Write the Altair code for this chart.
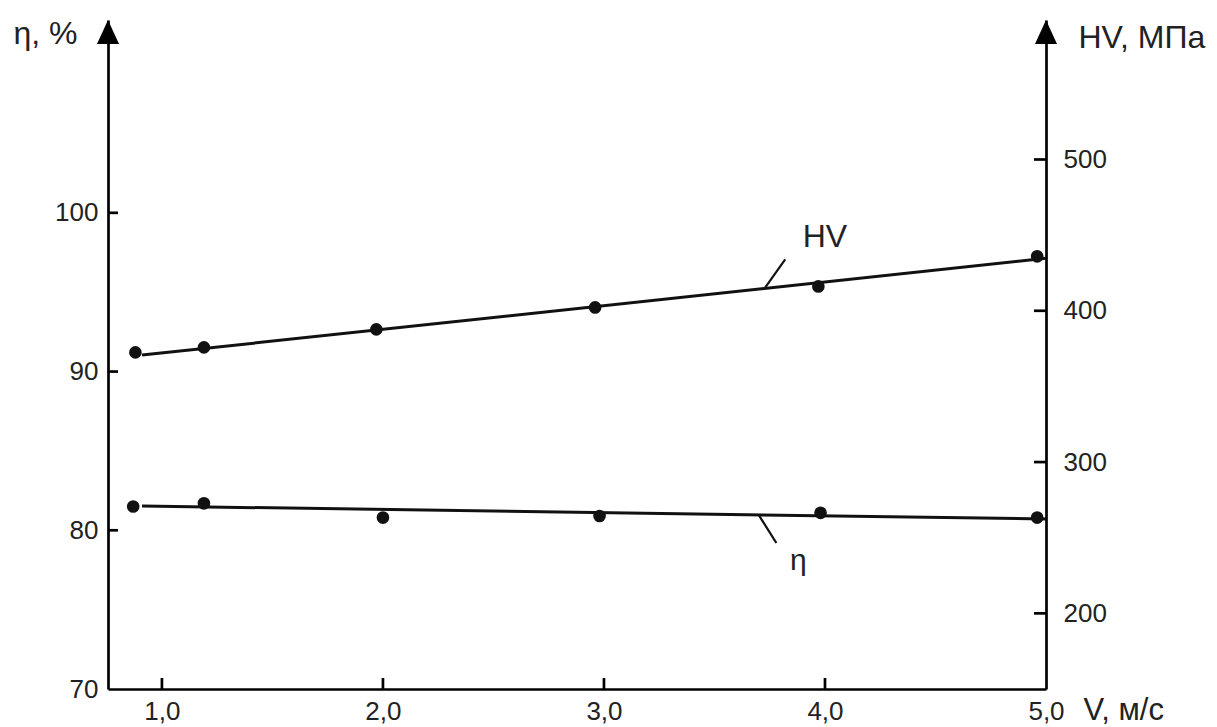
import altair as alt
import pandas as pd

# ---- data ----
hv_v = [0.88, 1.19, 1.97, 2.96, 3.97, 4.96]
hv_vals = [372.5, 375.8, 387.7, 402.2, 416.1, 436.0]
eta_v = [0.87, 1.19, 2.00, 2.98, 3.98, 4.96]
eta_vals = [81.5, 81.7, 80.8, 80.9, 81.1, 80.8]

hv_fit_v = [0.91, 5.0]
hv_fit = [370.7, 434.7]
eta_fit_v = [0.91, 5.0]
eta_fit = [81.53, 80.71]

x_tick_vals = [1.0, 2.0, 3.0, 4.0, 5.0]
x_tick_marks = [1.0, 2.0, 3.0, 4.0]
eta_tick_vals = [70, 80, 90, 100]
eta_tick_marks = [80, 90, 100]
hv_tick_vals = [200, 300, 400, 500]

X_DOM = [0.756, 5.0]
ETA_DOM = [70, 112.15]
HV_DOM = [150, 592.2]

# annotation leaders / labels (data coords)
hv_leader = {"v": [3.82], "y": [434.0], "v2": [3.73], "y2": [415.5]}
eta_leader = {"v": [3.70], "y": [80.97], "v2": [3.78], "y2": [79.2]}
hv_label = {"v": [4.0], "y": [441.9], "t": ["HV"]}
eta_label = {"v": [3.88], "y": [77.5], "t": ["η"]}

W, H = 938, 669
FONT = "Liberation Sans"
INK = "#111111"
TXT = "#222222"
ARROW = "M0,0L-0.44,0.96L0.44,0.96Z"

xscale = alt.Scale(domain=X_DOM, nice=False, zero=False)
escale = alt.Scale(domain=ETA_DOM, nice=False, zero=False)
hscale = alt.Scale(domain=HV_DOM, nice=False, zero=False)

x_axis = alt.Axis(
    values=x_tick_vals,
    labelExpr="replace(format(datum.value, '.1f'), '.', ',')",
    ticks=False, grid=False,
    domainColor="black", domainWidth=2.7,
    labelFontSize=26, labelFont=FONT, labelColor=TXT, labelPadding=9,
    labelOverlap=False, labelBound=False, labelFlush=False,
    title="V, м/с", titleFont=FONT, titleFontSize=31, titleFontWeight="normal",
    titleColor=TXT, titleX=975, titleY=30, titleAlign="left",
    titleBaseline="alphabetic", titleAngle=0,
)
eta_axis = alt.Axis(
    orient="left", values=eta_tick_vals, ticks=False, grid=False,
    domainColor="black", domainWidth=2.7,
    labelFontSize=26, labelFont=FONT, labelColor=TXT, labelPadding=10,
    title="η, %", titleFont=FONT, titleFontSize=32, titleFontWeight="normal",
    titleColor=TXT, titleX=-95, titleY=23, titleAlign="left",
    titleBaseline="alphabetic", titleAngle=0,
)
hv_axis = alt.Axis(
    orient="right", values=hv_tick_vals, ticks=False, grid=False,
    domainColor="black", domainWidth=2.7,
    labelFontSize=26, labelFont=FONT, labelColor=TXT, labelPadding=17,
    title="HV, МПа", titleFont=FONT, titleFontSize=32, titleFontWeight="normal",
    titleColor=TXT, titleX=32, titleY=27, titleAlign="left",
    titleBaseline="alphabetic", titleAngle=0,
)


def X(field="v:Q"):
    return alt.X(field, scale=xscale, axis=x_axis)


def YE(field="y:Q"):
    return alt.Y(field, scale=escale, axis=eta_axis)


def YH(field="y:Q"):
    return alt.Y(field, scale=hscale, axis=hv_axis)


# ---- η group (left axis) ----
eta_fit_df = pd.DataFrame({"v": eta_fit_v, "y": eta_fit})
eta_pts_df = pd.DataFrame({"v": eta_v, "y": eta_vals})

eta_line = alt.Chart(eta_fit_df).mark_line(color=INK, strokeWidth=3).encode(x=X(), y=YE())
eta_points = alt.Chart(eta_pts_df).mark_circle(size=160, color=INK, opacity=1).encode(x=X(), y=YE())
eta_lead = alt.Chart(pd.DataFrame(eta_leader)).mark_rule(color=INK, strokeWidth=2.2).encode(
    x=X(), x2="v2:Q", y=YE(), y2="y2:Q"
)
eta_text = alt.Chart(pd.DataFrame(eta_label)).mark_text(
    font=FONT, fontSize=30, color=TXT, align="center", baseline="alphabetic"
).encode(x=X(), y=YE(), text="t:N")
eta_ticks = alt.Chart(pd.DataFrame({"y": eta_tick_marks})).mark_rule(color="black", strokeWidth=2.7).encode(
    y=YE(), x=alt.value(0), x2=alt.value(10)
)
x_ticks = alt.Chart(pd.DataFrame({"v": x_tick_marks})).mark_rule(color="black", strokeWidth=2.7).encode(
    x=X(), y=alt.value(H), y2=alt.value(H - 11)
)
eta_arrow = alt.Chart(pd.DataFrame({"v": [X_DOM[0]], "y": [ETA_DOM[1]]})).mark_point(
    shape=ARROW, size=2500, filled=True, color="black", opacity=1, strokeWidth=0
).encode(x=X(), y=YE())

eta_group = alt.layer(eta_line, eta_points, eta_lead, eta_text, eta_ticks, x_ticks, eta_arrow)

# ---- HV group (right axis) ----
hv_fit_df = pd.DataFrame({"v": hv_fit_v, "y": hv_fit})
hv_pts_df = pd.DataFrame({"v": hv_v, "y": hv_vals})

hv_line = alt.Chart(hv_fit_df).mark_line(color=INK, strokeWidth=3).encode(x=X(), y=YH())
hv_points = alt.Chart(hv_pts_df).mark_circle(size=160, color=INK, opacity=1).encode(x=X(), y=YH())
hv_lead = alt.Chart(pd.DataFrame(hv_leader)).mark_rule(color=INK, strokeWidth=2.2).encode(
    x=X(), x2="v2:Q", y=YH(), y2="y2:Q"
)
hv_text = alt.Chart(pd.DataFrame(hv_label)).mark_text(
    font=FONT, fontSize=32, color=TXT, align="center", baseline="alphabetic"
).encode(x=X(), y=YH(), text="t:N")
hv_ticks = alt.Chart(pd.DataFrame({"y": hv_tick_vals})).mark_rule(color="black", strokeWidth=2.7).encode(
    y=YH(), x=alt.value(W), x2=alt.value(W - 12)
)
hv_arrow = alt.Chart(pd.DataFrame({"v": [X_DOM[1]], "y": [HV_DOM[1]]})).mark_point(
    shape=ARROW, size=2500, filled=True, color="black", opacity=1, strokeWidth=0
).encode(x=X(), y=YH())

hv_group = alt.layer(hv_line, hv_points, hv_lead, hv_text, hv_ticks, hv_arrow)

chart = alt.layer(eta_group, hv_group).resolve_scale(y="independent").properties(
    width=W, height=H,
    padding={"left": 108, "top": 20, "right": 171, "bottom": 38},
    autosize=alt.AutoSizeParams(type="none"),
    background="white",
).configure_view(stroke=None)

chart.save("out.html", embed_options={"renderer": "svg", "actions": False})
